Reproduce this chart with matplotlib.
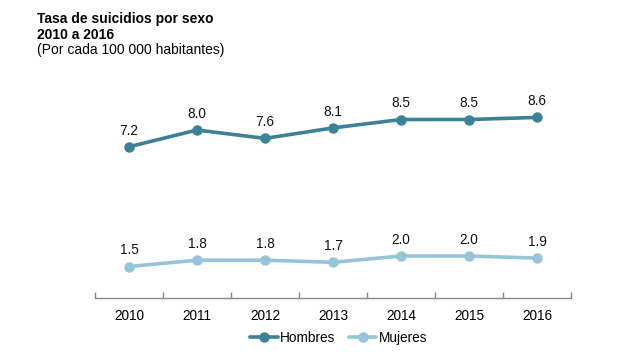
import matplotlib
matplotlib.use("Agg")
import matplotlib.pyplot as plt

years = ["2010", "2011", "2012", "2013", "2014", "2015", "2016"]
hombres = [7.2, 8.0, 7.6, 8.1, 8.5, 8.5, 8.6]
mujeres = [1.5, 1.8, 1.8, 1.7, 2.0, 2.0, 1.9]

plt.rcParams['font.family'] = ['Liberation Sans', 'DejaVu Sans']

c_h = '#3B8296'
c_m = '#95C5D7'

fig = plt.figure(figsize=(6.2, 3.58), dpi=100)
ax = fig.add_axes([95/620, 1-298/358, (571-95)/620, 210/358])

x = list(range(len(years)))
ax.plot(x, hombres, color=c_h, lw=2.6, marker='o', ms=6.5, label='Hombres', solid_capstyle='round')
ax.plot(x, mujeres, color=c_m, lw=2.6, marker='o', ms=6.5, label='Mujeres', solid_capstyle='round')

for xi, v in zip(x, hombres):
    ax.annotate(f"{v:.1f}", (xi, v), xytext=(0, 6.5), textcoords='offset points',
                ha='center', va='bottom', fontsize=9.8, color='#111111')
for xi, v in zip(x, mujeres):
    ax.annotate(f"{v:.1f}", (xi, v), xytext=(0, 6.5), textcoords='offset points',
                ha='center', va='bottom', fontsize=9.8, color='#111111')

ax.set_xlim(-0.5, len(years) - 0.5)
ax.set_ylim(0, 10)
ax.set_yticks([])
for s in ['top', 'right', 'left']:
    ax.spines[s].set_visible(False)
ax.spines['bottom'].set_color('#888888')
ax.spines['bottom'].set_linewidth(1.0)

ax.set_xticks(x)
ax.set_xticklabels(years, fontsize=9.8)
ax.tick_params(axis='x', length=0, pad=8)
ax.set_xticks([i - 0.5 for i in range(len(years) + 1)], minor=True)
ax.tick_params(axis='x', which='minor', direction='in', length=4, color='#888888', width=1.0)

leg = fig.legend(loc='center', bbox_to_anchor=(339/620, 1-338/358), ncol=2, frameon=False,
                 fontsize=9.8, handlelength=2.0, columnspacing=1.0, handletextpad=0.2)

fig.text(37/620, 1-19/358, "Tasa de suicidios por sexo", fontsize=10, fontweight='bold', va='center')
fig.text(37/620, 1-35/358, "2010 a 2016", fontsize=10, fontweight='bold', va='center')
fig.text(37/620, 1-50/358, "(Por cada 100 000 habitantes)", fontsize=10, va='center')

fig.savefig("out.png", dpi=100)
